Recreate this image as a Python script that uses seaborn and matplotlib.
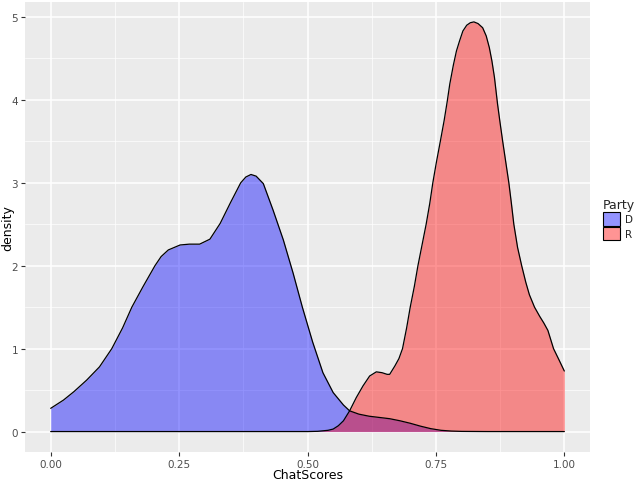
import matplotlib
matplotlib.use("Agg")
import matplotlib.pyplot as plt
import seaborn as sns
import pandas as pd
from matplotlib.patches import Patch
from matplotlib.ticker import MultipleLocator
from matplotlib.colors import to_rgba

# ---- data ----
d_x = [0.00, 0.025, 0.045, 0.07, 0.095, 0.119, 0.14, 0.158, 0.18, 0.203, 0.215, 0.229, 0.252,
       0.27, 0.29, 0.31, 0.33, 0.35, 0.37, 0.38, 0.39, 0.40, 0.414, 0.433, 0.453, 0.472,
       0.49, 0.51, 0.53, 0.55, 0.57, 0.582, 0.60, 0.62, 0.64, 0.66, 0.68, 0.70, 0.72,
       0.74, 0.76, 0.78, 0.80, 0.85, 0.90, 1.00]
d_y = [0.28, 0.38, 0.48, 0.62, 0.78, 1.00, 1.25, 1.50, 1.75, 2.00, 2.11, 2.19, 2.25,
       2.26, 2.26, 2.32, 2.51, 2.76, 3.00, 3.07, 3.10, 3.08, 2.99, 2.67, 2.31, 1.91,
       1.50, 1.08, 0.71, 0.47, 0.32, 0.25, 0.21, 0.185, 0.17, 0.155, 0.13, 0.10, 0.065,
       0.035, 0.015, 0.006, 0.002, 0.0, 0.0, 0.0]

r_x = [0.00, 0.45, 0.50, 0.52, 0.54, 0.55, 0.56, 0.57, 0.582, 0.595, 0.608, 0.621, 0.634,
       0.645, 0.655, 0.660, 0.670, 0.678, 0.685, 0.693, 0.700, 0.708, 0.715, 0.723, 0.731,
       0.738, 0.744, 0.751, 0.7586, 0.766, 0.772, 0.777, 0.784, 0.790, 0.796, 0.8025, 0.810,
       0.817, 0.824, 0.832, 0.841, 0.848, 0.854, 0.859, 0.864, 0.870, 0.875, 0.880, 0.886,
       0.892, 0.897, 0.9017, 0.909, 0.917, 0.925, 0.932, 0.942, 0.952, 0.960, 0.968, 0.979,
       0.990, 1.00]
r_y = [0.0, 0.0, 0.0, 0.003, 0.015, 0.03, 0.07, 0.13, 0.25, 0.41, 0.55, 0.67, 0.72,
       0.71, 0.69, 0.69, 0.79, 0.88, 1.00, 1.25, 1.50, 1.75, 2.00, 2.25, 2.50,
       2.75, 3.00, 3.25, 3.50, 3.75, 3.98, 4.19, 4.42, 4.59, 4.71, 4.83, 4.90,
       4.93, 4.94, 4.92, 4.87, 4.77, 4.63, 4.47, 4.27, 3.95, 3.72, 3.50, 3.25,
       3.00, 2.75, 2.50, 2.22, 2.00, 1.80, 1.65, 1.50, 1.39, 1.31, 1.22, 1.00,
       0.86, 0.73]

parties = ["D", "R"]
fill_colors = {"D": "#0000FF", "R": "#FF0000"}
x_ticks = [0.00, 0.25, 0.50, 0.75, 1.00]
x_tick_labels = ["0.00", "0.25", "0.50", "0.75", "1.00"]
y_ticks = [0, 1, 2, 3, 4, 5]

df = pd.concat([
    pd.DataFrame({"ChatScores": d_x, "density": d_y, "Party": "D"}),
    pd.DataFrame({"ChatScores": r_x, "density": r_y, "Party": "R"}),
], ignore_index=True)

sns.set_theme(style="darkgrid")
plt.rcParams["font.family"] = ["DejaVu Sans"]

fig = plt.figure(figsize=(6.4, 4.81), dpi=100)
ax = fig.add_axes([25 / 640, 1 - 453 / 481, (590 - 25) / 640, (453 - 3) / 481])
ax.set_facecolor("#EBEBEB")

alpha = 0.42
for p in parties:
    sub = df[df["Party"] == p]
    ax.fill_between(sub["ChatScores"], 0, sub["density"], color=fill_colors[p],
                    alpha=alpha, linewidth=0, zorder=2)
    sns.lineplot(data=sub, x="ChatScores", y="density", color="black",
                 linewidth=0.9, ax=ax, zorder=3, estimator=None, sort=False,
                 solid_joinstyle="round")

ax.set_xlim(-0.05, 1.05)
ax.set_ylim(-0.2465, 5.18)
ax.set_xticks(x_ticks)
ax.set_xticklabels(x_tick_labels)
ax.set_yticks(y_ticks)
ax.xaxis.set_minor_locator(MultipleLocator(0.125))
ax.yaxis.set_minor_locator(MultipleLocator(0.5))
ax.grid(which="major", color="white", linewidth=1.1, zorder=0)
ax.grid(which="minor", color="white", linewidth=0.5, zorder=0)
ax.set_axisbelow(True)
for s in ax.spines.values():
    s.set_visible(False)

ax.tick_params(axis="both", which="major", length=3, width=0.8, color="#333333",
               labelsize=7.5, labelcolor="#4D4D4D", pad=2, bottom=True, left=True)
ax.tick_params(axis="both", which="minor", length=0)
ax.set_xlabel("ChatScores", fontsize=9, color="black", va="center")
ax.set_ylabel("density", fontsize=9, color="black", va="center")
ax.xaxis.set_label_coords(0.5, (453 - 476) / 450)
ax.yaxis.set_label_coords((8 - 25) / 565, 0.5)

handles = [Patch(facecolor=to_rgba(fill_colors[p], alpha), edgecolor="black", linewidth=0.8)
           for p in parties]
leg = fig.legend(handles, parties, title="Party", loc="upper left",
                 bbox_to_anchor=(601 / 640, 1 - 197 / 481), frameon=False,
                 fontsize=7.5, title_fontsize=9, handlelength=1.6, handleheight=1.6,
                 handletextpad=0.5, labelspacing=0.1, borderaxespad=0, borderpad=0.2)
leg._legend_box.align = "left"

fig.savefig("out.png", dpi=100)
